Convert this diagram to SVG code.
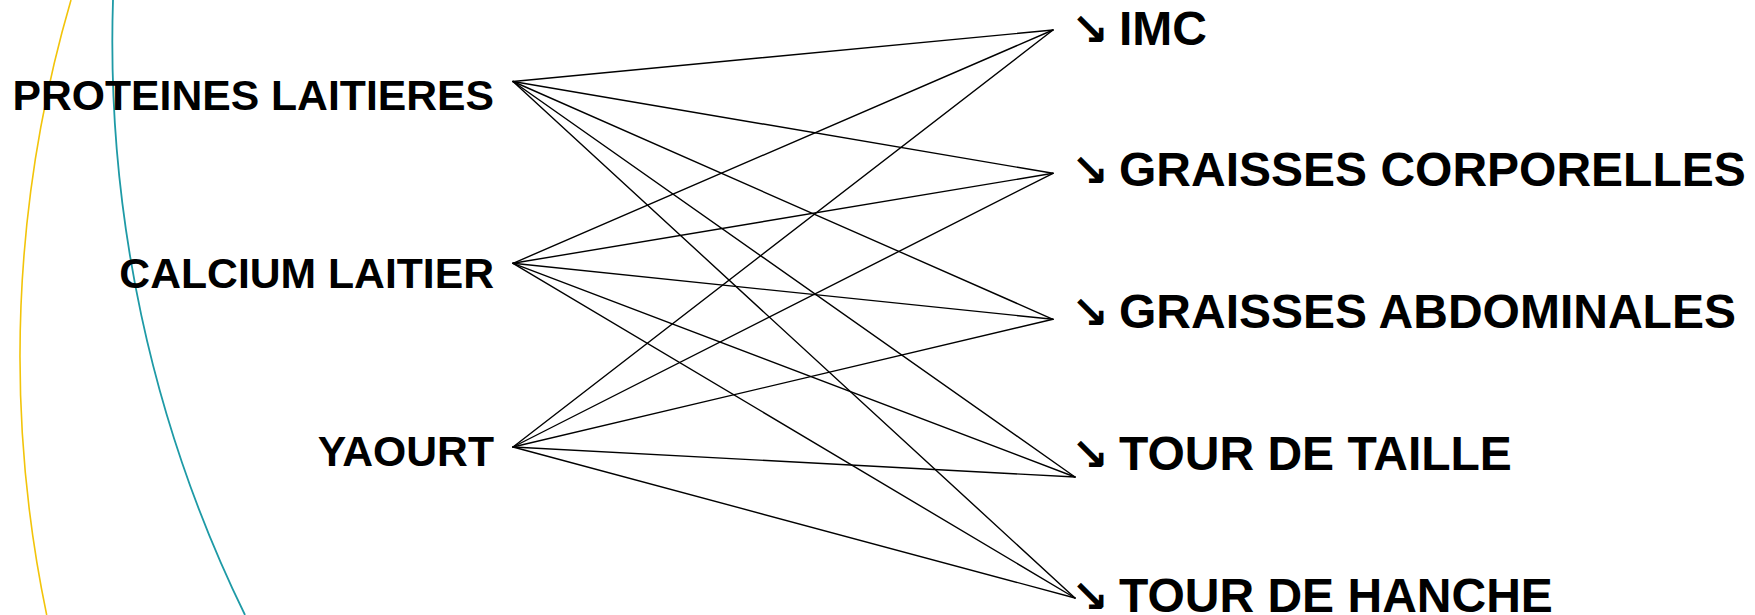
<svg xmlns="http://www.w3.org/2000/svg" width="1755" height="615" viewBox="0 0 1755 615">
  <style>
    .bg { fill: #ffffff; }
    .arc-y { fill: none; stroke: #F2C40A; stroke-width: 1.6; }
    .arc-t { fill: none; stroke: #1E9AA6; stroke-width: 1.8; }
    .edge { stroke: #000000; stroke-width: 1.4; fill: none; stroke-linecap: round; }
    .src { font-family: "Liberation Sans", Arial, sans-serif; font-weight: bold; font-size: 42.7px; fill: #000; text-anchor: end; }
    .dst { font-family: "Liberation Sans", Arial, sans-serif; font-weight: bold; font-size: 48px; fill: #000; }
    .arr { font-family: "DejaVu Sans", "Liberation Sans", sans-serif; font-weight: bold; font-size: 45px; }
  </style>

  <rect class="bg" x="0" y="0" width="1755" height="615"/>

  <!-- decorative arcs on the left edge -->
  <g id="decor">
    <path class="arc-y" d="M 71 0 A 1268 1268 0 0 0 46.7 615"/>
    <path class="arc-t" d="M 113 0 A 1305 1305 0 0 0 245 615"/>
  </g>

  <!-- connectors: each dairy factor linked to each outcome -->
  <g id="connectors">
    <line class="edge" x1="513" y1="81.5" x2="1053" y2="30"/>
    <line class="edge" x1="513" y1="81.5" x2="1053" y2="173.3"/>
    <line class="edge" x1="513" y1="81.5" x2="1053" y2="319.3"/>
    <line class="edge" x1="513" y1="81.5" x2="1075" y2="477"/>
    <line class="edge" x1="513" y1="81.5" x2="1075" y2="598"/>

    <line class="edge" x1="513" y1="263.3" x2="1053" y2="30"/>
    <line class="edge" x1="513" y1="263.3" x2="1053" y2="173.3"/>
    <line class="edge" x1="513" y1="263.3" x2="1053" y2="319.3"/>
    <line class="edge" x1="513" y1="263.3" x2="1075" y2="477"/>
    <line class="edge" x1="513" y1="263.3" x2="1075" y2="598"/>

    <line class="edge" x1="513" y1="447" x2="1053" y2="30"/>
    <line class="edge" x1="513" y1="447" x2="1053" y2="173.3"/>
    <line class="edge" x1="513" y1="447" x2="1053" y2="319.3"/>
    <line class="edge" x1="513" y1="447" x2="1075" y2="477"/>
    <line class="edge" x1="513" y1="447" x2="1075" y2="598"/>
  </g>

  <!-- source nodes -->
  <g id="node-proteines">
    <text class="src" x="494" y="109.5">PROTEINES LAITIERES</text>
  </g>
  <g id="node-calcium">
    <text class="src" x="494" y="288.3">CALCIUM LAITIER</text>
  </g>
  <g id="node-yaourt">
    <text class="src" x="494" y="466">YAOURT</text>
  </g>

  <!-- outcome nodes -->
  <g id="node-imc">
    <text class="dst" y="44.5"><tspan class="arr" x="1071">↘</tspan><tspan x="1119">IMC</tspan></text>
  </g>
  <g id="node-graisses-corporelles">
    <text class="dst" y="186"><tspan class="arr" x="1071">↘</tspan><tspan x="1119">GRAISSES CORPORELLES</tspan></text>
  </g>
  <g id="node-graisses-abdominales">
    <text class="dst" y="328.3"><tspan class="arr" x="1071">↘</tspan><tspan x="1119">GRAISSES ABDOMINALES</tspan></text>
  </g>
  <g id="node-tour-taille">
    <text class="dst" y="470"><tspan class="arr" x="1071">↘</tspan><tspan x="1119">TOUR DE TAILLE</tspan></text>
  </g>
  <g id="node-tour-hanche">
    <text class="dst" y="611.5"><tspan class="arr" x="1071">↘</tspan><tspan x="1119">TOUR DE HANCHE</tspan></text>
  </g>
</svg>
